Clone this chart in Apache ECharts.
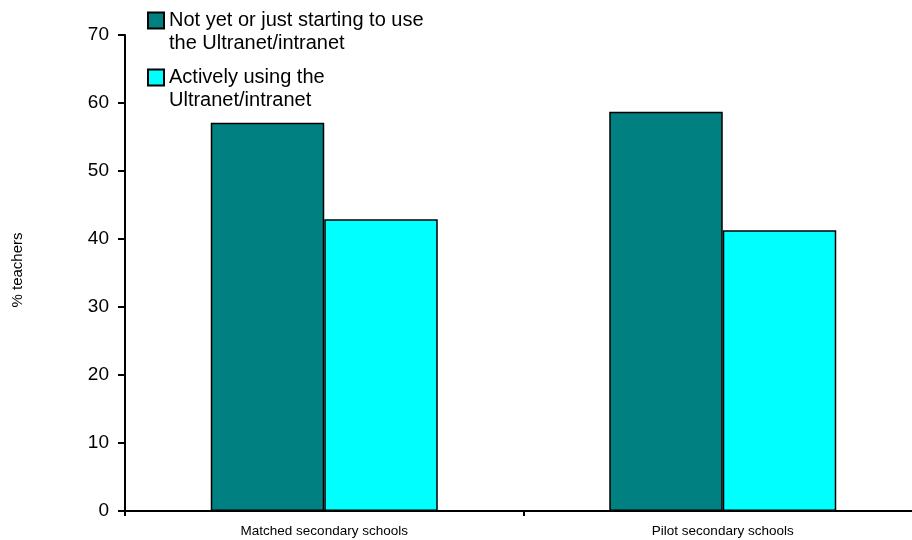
<!DOCTYPE html>
<html>
<head>
<meta charset="utf-8">
<script src="https://cdn.jsdelivr.net/npm/echarts@6/dist/echarts.min.js"></script>
<style>
  html, body { margin: 0; padding: 0; background: #ffffff; }
  #chart { width: 912px; height: 540px; }
</style>
</head>
<body>
<div id="chart"></div>
<script>
const categories = ['Matched secondary schools', 'Pilot secondary schools']
const seriesNames = ['Not yet or just starting to use\nthe Ultranet/intranet', 'Actively using the\nUltranet/intranet']
const notYet = [57.1, 58.7]
const active = [42.9, 41.3]
const yTicks = { min: 0, max: 70, interval: 10 }

const chart = echarts.init(document.getElementById('chart'), null, { renderer: 'canvas' })

const font = 'Liberation Sans, Arial, sans-serif'
const legendText = {
  color: '#000000',
  fontFamily: font,
  fontSize: 20,
  lineHeight: 23,
}

// leading blank line puts the first text line level with the square
const legendBase = {
  padding: 0,
  icon: 'rect',
  itemWidth: 16, itemHeight: 16, itemGap: 0,
  textStyle: legendText,
  formatter: (n) => '\n' + n,
}

chart.setOption({
  backgroundColor: '#ffffff',
  animation: false,
  textStyle: { fontFamily: font },
  grid: { left: 125, top: 35, width: 797, height: 476, outerBoundsMode: 'none' },
  legend: [
    { ...legendBase, data: [seriesNames[0]], left: 147, top: -14 },
    { ...legendBase, data: [seriesNames[1]], left: 147, top: 43 },
  ],
  xAxis: {
    type: 'category',
    data: categories,
    axisLine: { lineStyle: { color: '#000000', width: 2 } },
    axisTick: { show: true, interval: 0, length: 5, lineStyle: { color: '#000000', width: 2 } },
    axisLabel: { color: '#000000', fontSize: 13.5, margin: 13 },
  },
  yAxis: {
    type: 'value',
    min: yTicks.min, max: yTicks.max, interval: yTicks.interval,
    name: '% teachers',
    nameLocation: 'middle',
    nameGap: 100,
    nameTextStyle: { color: '#000000', fontSize: 15, padding: [0, 0, 0, 6] },
    axisLine: { show: true, lineStyle: { color: '#000000', width: 2 } },
    axisTick: { show: true, length: 7, lineStyle: { color: '#000000', width: 2 } },
    axisLabel: { color: '#000000', fontSize: 19, margin: 16 },
    splitLine: { show: false },
  },
  series: [
    {
      name: seriesNames[0],
      type: 'bar',
      data: notYet,
      barWidth: 113.5,
      barGap: '0%',
      itemStyle: { color: '#008080', borderColor: '#000000', borderWidth: 1.5 },
    },
    {
      name: seriesNames[1],
      type: 'bar',
      data: active,
      barWidth: 113.5,
      barGap: '0%',
      itemStyle: { color: '#00ffff', borderColor: '#000000', borderWidth: 1.5 },
    },
  ],
})
</script>
</body>
</html>
